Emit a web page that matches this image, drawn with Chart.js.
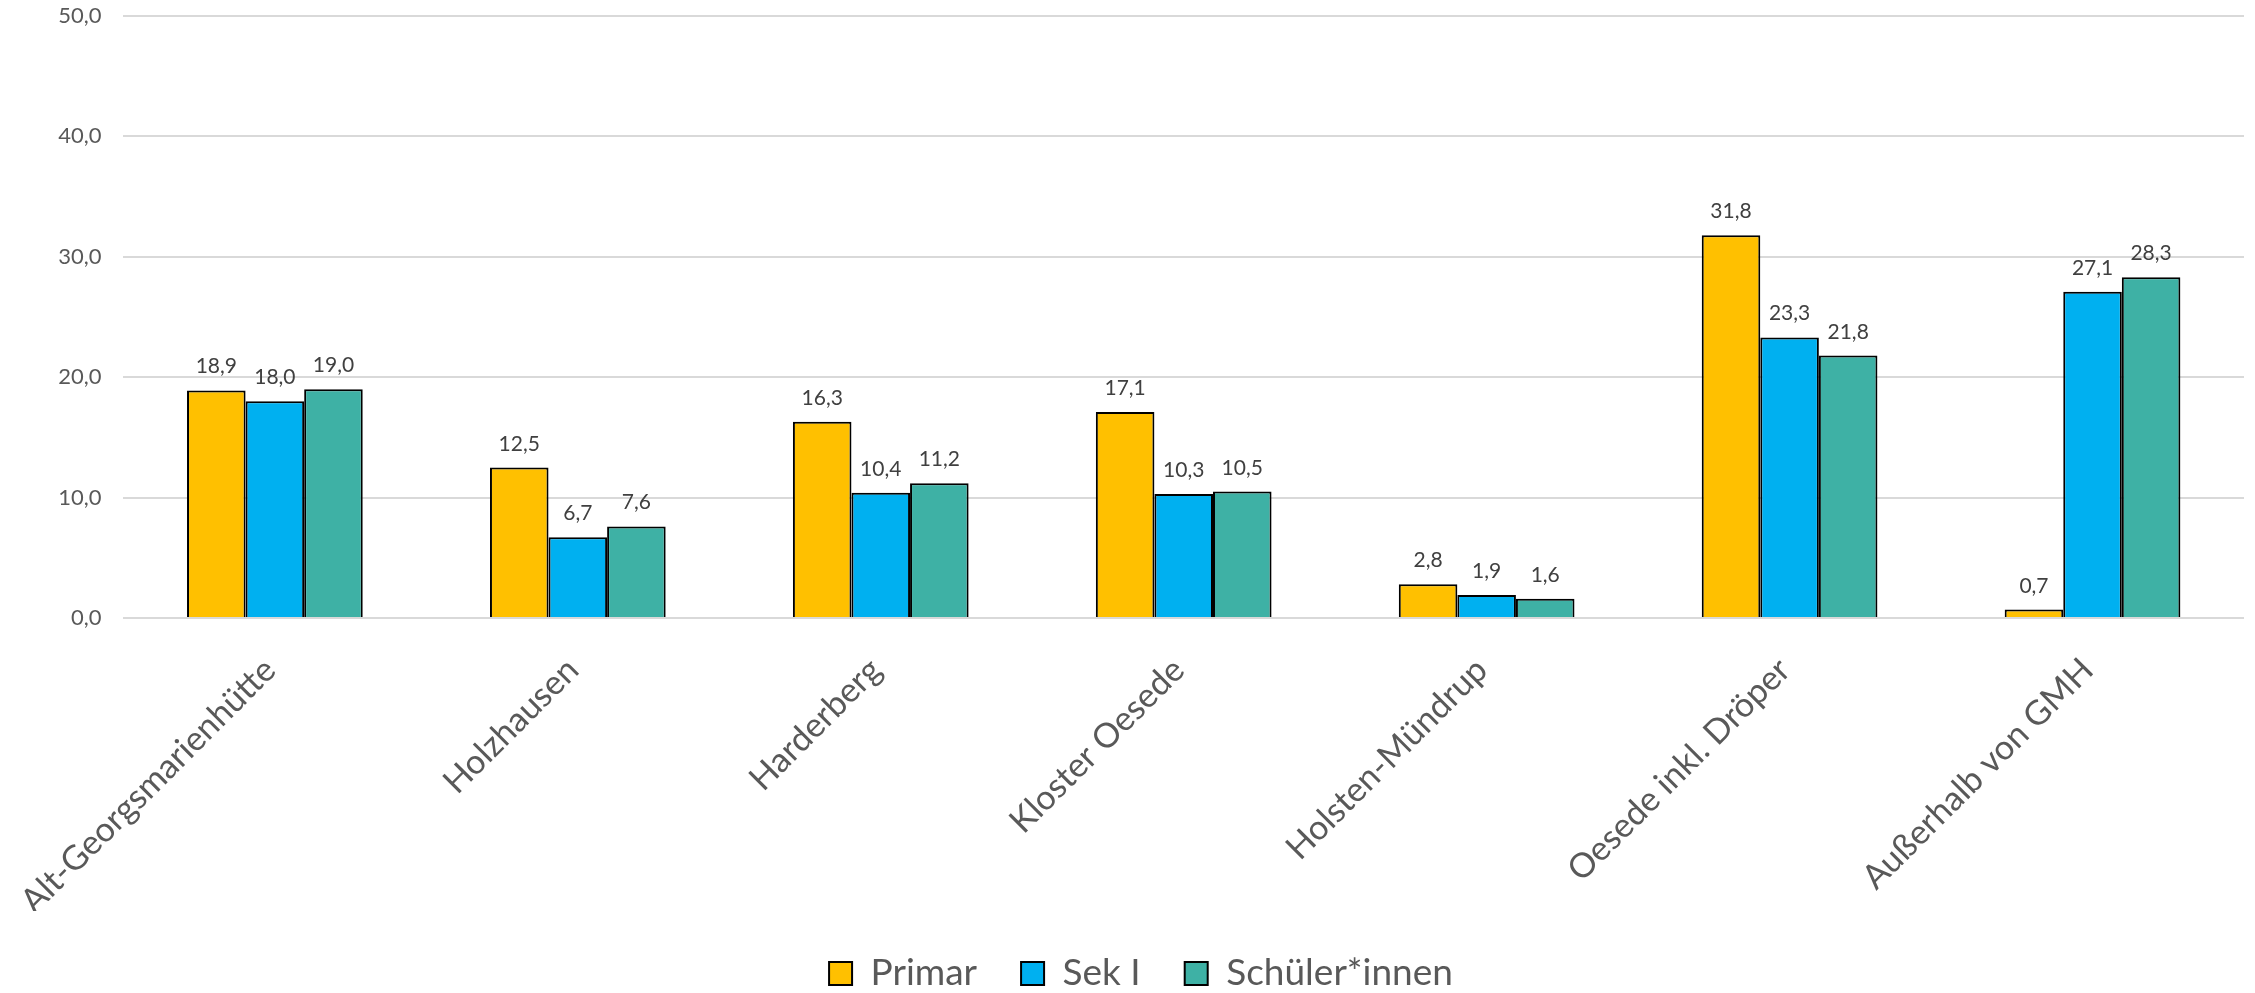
<!DOCTYPE html>
<html>
<head>
<meta charset="utf-8">
<script src="https://cdn.jsdelivr.net/npm/chart.js@4"></script>
<style>
  html, body { margin: 0; padding: 0; background: #fff; }
  #wrap { width: 2255px; height: 993px; }
</style>
</head>
<body>
<div id="wrap"><canvas id="chart_cv" width="2255" height="993"></canvas></div>
<script>
// Daten
const categories = ['Alt-Georgsmarienhütte', 'Holzhausen', 'Harderberg', 'Kloster Oesede', 'Holsten-Mündrup', 'Oesede inkl. Dröper', 'Außerhalb von GMH'];
const primar = [18.9, 12.5, 16.3, 17.1, 2.8, 31.8, 0.7];
const sekI = [18.0, 6.7, 10.4, 10.3, 1.9, 23.3, 27.1];
const schueler = [19.0, 7.6, 11.2, 10.5, 1.6, 21.8, 28.3];
const yTicks = [0, 10, 20, 30, 40, 50];

const fmt = v => v.toFixed(1).replace('.', ',');

// Werte über den Balken
const valueLabels = {
  id: 'valueLabels',
  afterDatasetsDraw(chart) {
    const ctx = chart.ctx;
    ctx.save();
    ctx.font = '21px Lato';
    ctx.fillStyle = '#404040';
    ctx.textAlign = 'center';
    ctx.textBaseline = 'alphabetic';
    chart.data.datasets.forEach((ds, i) => {
      chart.getDatasetMeta(i).data.forEach((bar, j) => {
        ctx.fillText(fmt(ds.data[j]), bar.x, bar.y - 17);
      });
    });
    ctx.restore();
  }
};

const ctx = document.getElementById('chart_cv');
const chart_cv = new Chart(ctx, {
  type: 'bar',
  data: {
    labels: categories,
    datasets: [
      { label: 'Primar', data: primar, backgroundColor: '#FFC000', borderColor: '#000', borderWidth: 2 },
      { label: 'Sek I', data: sekI, backgroundColor: '#00B0F0', borderColor: '#000', borderWidth: 2 },
      { label: 'Schüler*innen', data: schueler, backgroundColor: '#3EB1A5', borderColor: '#000', borderWidth: 2 }
    ]
  },
  options: {
    responsive: false,
    animation: false,
    layout: { padding: { top: 0, right: 11, left: 38, bottom: -9 } },
    datasets: { bar: { categoryPercentage: 0.58, barPercentage: 1.0 } },
    plugins: {
      tooltip: { enabled: false },
      legend: {
        position: 'bottom',
        labels: {
          font: { family: 'Lato', size: 37 },
          color: '#595959',
          boxWidth: 23,
          boxHeight: 23,
          padding: 44,
          useBorderRadius: false
        }
      }
    },
    scales: {
      x: {
        grid: { display: false },
        border: { display: false },
        ticks: {
          font: { family: 'Lato', size: 34 },
          color: '#595959',
          minRotation: 45,
          maxRotation: 45,
          padding: 24,
          labelOffset: -5
        },
        afterFit(scale) { scale.height = 293; }
      },
      y: {
        min: 0,
        max: 50,
        afterBuildTicks(scale) { scale.ticks = yTicks.map(v => ({ value: v })); },
        grid: { color: '#D9D9D9', lineWidth: 2, drawTicks: false },
        border: { display: false },
        ticks: {
          font: { family: 'Lato', size: 22 },
          color: '#595959',
          padding: 22,
          callback: v => fmt(v)
        },
        afterFit(scale) {
          scale.width = 75;
          scale.paddingTop = 16;
          scale.paddingBottom = 0;
        }
      }
    }
  },
  plugins: [valueLabels]
});
</script>
</body>
</html>
